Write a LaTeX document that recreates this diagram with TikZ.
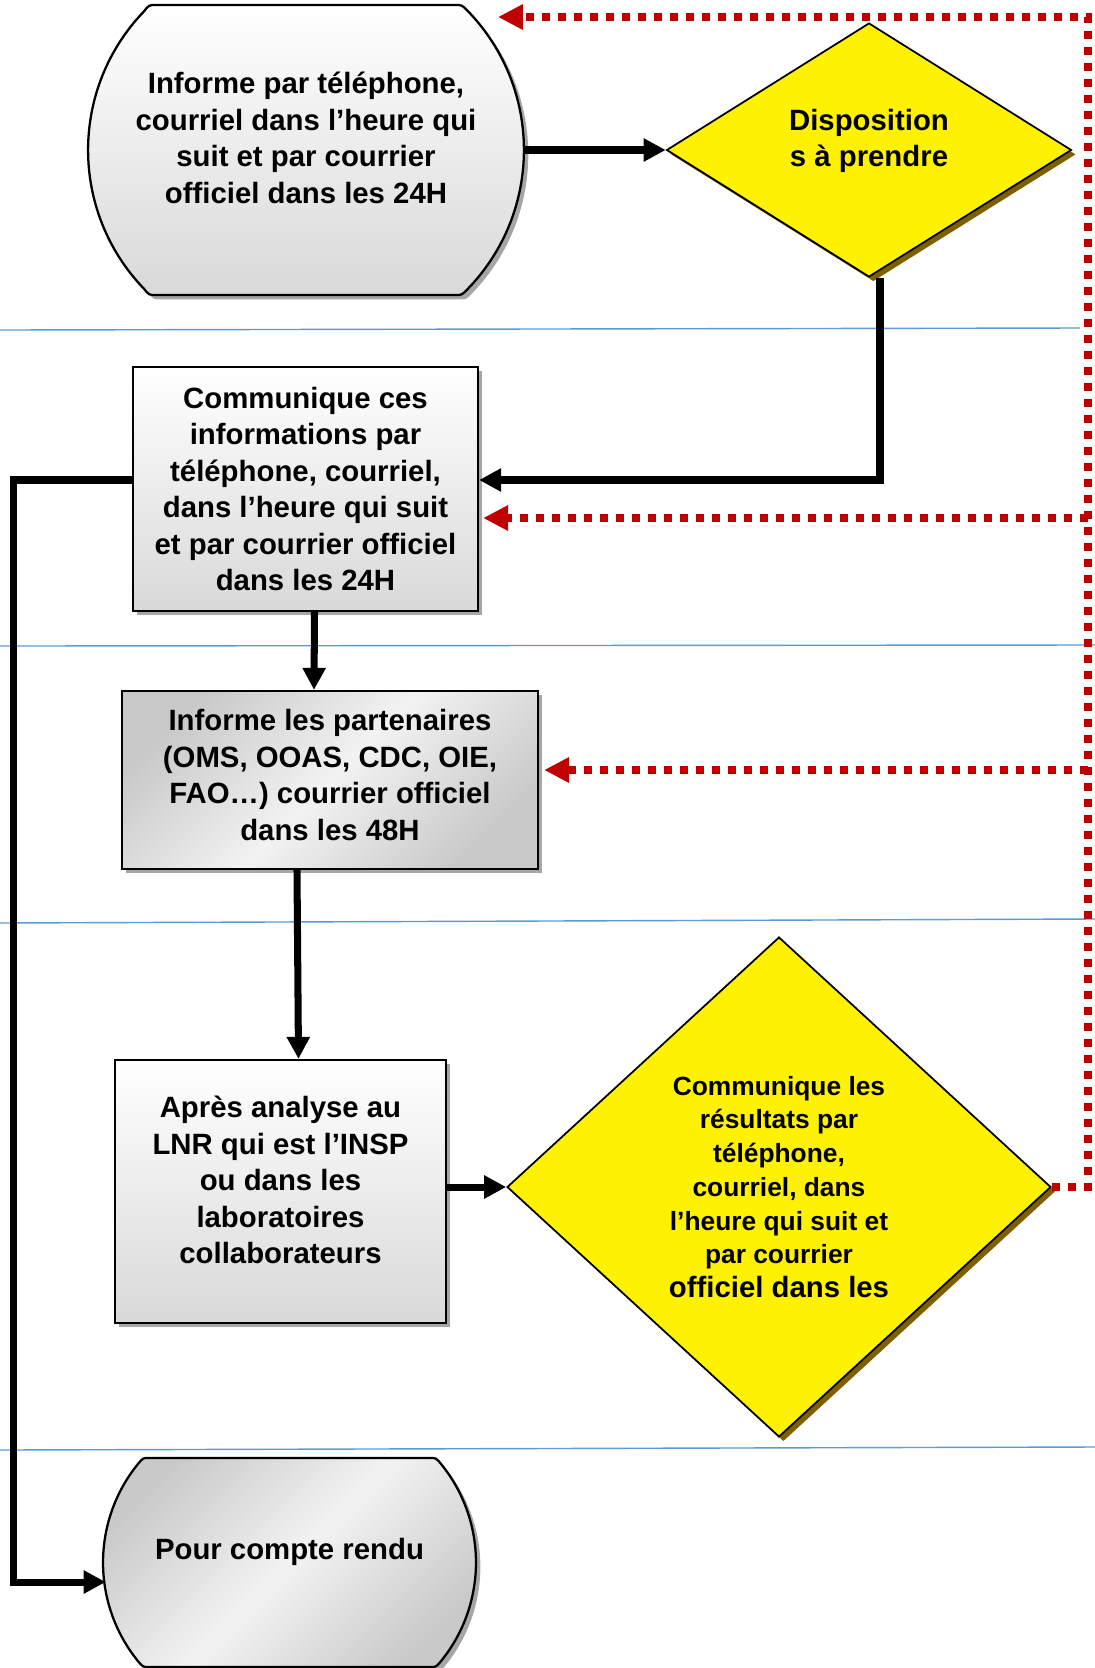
\documentclass[tikz,border=0pt]{standalone}
\usepackage{fontspec}
\setmainfont{Liberation Sans}
\usepackage{xcolor}
\usetikzlibrary{calc,shapes.geometric,arrows.meta,shadows}
\definecolor{alertred}{HTML}{C00000}
\definecolor{laneblue}{HTML}{5B9BD5}
\definecolor{diamondshade}{HTML}{7F6000}
\newcommand{\boxfont}{\bfseries\fontsize{16.7}{20.8}\selectfont}
\newcommand{\smallboxfont}{\bfseries\fontsize{15}{19.2}\selectfont}

\begin{document}
\begin{tikzpicture}[x=0.02cm, y=-0.02cm,
    flow/.style={line width=4pt, -{Triangle[length=0.44cm, width=0.44cm]}},
    alert/.style={line width=4.3pt, alertred, dash pattern=on 0.16cm off 0.16cm,
        -{Triangle[length=0.5cm, width=0.48cm]}},
    lane/.style={laneblue, line width=0.8pt},
    greyshadow/.style={drop shadow={shadow xshift=2.5pt, shadow yshift=-2.5pt, fill=black!35, opacity=1}},
    fade/.style={top color=white, bottom color=black!15},
    diag/.style={left color=black!21, right color=black!21, middle color=black!5, shading angle=45},
    task/.style={rectangle, draw, line width=1.3pt, inner sep=0pt, align=center, font=\boxfont, greyshadow},
    boxtext/.style={align=center, font=\boxfont, inner sep=0pt},
    decision/.style={diamond, draw, line width=1pt, fill=yellow, inner sep=0pt, align=center,
        drop shadow={shadow xshift=2.5pt, shadow yshift=-2.5pt, fill=diamondshade, opacity=1}},
    barrel/.style={draw, line width=1.3pt, greyshadow}]

    \useasboundingbox (0,0) rectangle (1095,1668);

    % Lane separators
    \foreach \xe/\ya/\yb in {1080/330/328, 1095/646/645, 1095/923/919, 1095/1450/1447} {
        \draw[lane] (0,\ya) -- (\xe,\yb);
    }

    % Top step (barrel outline, then its text)
    \draw[barrel, fade] (156,5) -- (455,5) .. controls (462,5) .. (467.8,11)
        arc[start angle=-44, end angle=44, radius=200] .. controls (462,295) .. (455,295)
        -- (156,295) .. controls (149,295) .. (144.2,289)
        arc[start angle=136, end angle=224, radius=200] .. controls (149,5) .. (156,5) -- cycle;
    \node[boxtext, minimum width=8.72cm] (n1) at (306,138)
        {Informe par téléphone,\\courriel dans l’heure qui\\suit et par courrier\\officiel dans les 24H};

    % Decision
    \node[decision, minimum width=8.1cm, minimum height=5.08cm] (d1) at (869,150) {};
    \node[boxtext] (d1text) at (869,141) {Disposition\\s à prendre};

    % Steps
    \node[task, fade, minimum width=6.9cm, minimum height=4.88cm] (n2) at (305.5,489)
        {Communique ces\\informations par\\téléphone, courriel,\\dans l’heure qui suit\\et par courrier officiel\\dans les 24H};
    \node[task, diag, minimum width=8.32cm, minimum height=3.56cm] (n3) at (330,780) {};
    \node[boxtext] (n3text) at (330,775)
        {Informe les partenaires\\(OMS, OOAS, CDC, OIE,\\FAO…) courrier officiel\\dans les 48H};
    \node[task, fade, minimum width=6.62cm, minimum height=5.26cm] (n4) at (280.5,1191.5) {};
    \node[boxtext] (n4text) at (280.5,1180)
        {Après analyse au\\LNR qui est l’INSP\\ou dans les\\laboratoires\\collaborateurs};

    % Results
    \node[decision, font=\smallboxfont, minimum width=10.88cm, minimum height=10cm] (d2) at (779,1187)
        {Communique les\\résultats par\\téléphone,\\courriel, dans\\l’heure qui suit et\\par courrier\\{\boxfont officiel dans les}};

    % Bottom step
    \draw[barrel, diag] (148,1458) -- (431,1458) .. controls (436,1458) .. (441.1,1464)
        arc[start angle=-39, end angle=39, radius=156.5] .. controls (436,1667) .. (431,1667)
        -- (148,1667) .. controls (143,1667) .. (137.9,1661)
        arc[start angle=141, end angle=219, radius=156.5] .. controls (143,1458) .. (148,1458) -- cycle;
    \node[boxtext, minimum width=7.46cm] (n6) at (289.5,1552) {Pour compte rendu};

    % Feedback (red dotted)
    \coordinate (bus) at ($(d2.east)+(36,0)$);
    \coordinate (in1) at (498,17);
    \coordinate (in2) at ($(n2.east)+(4,29)$);
    \coordinate (in3) at ($(n3.east)+(5,-10)$);
    \draw[alert] (d2.east) -- (bus) |- (in1);
    \draw[alert] (bus |- in2) -- (in2);
    \draw[alert] (bus |- in3) -- (in3);

    % Main flow
    \draw[flow] (d1.west -| n1.east) -- (d1.west);
    \draw[flow] ($(d1.south)+(11,0)$) |- ($(n2.east)+(0,-9)$);
    \draw[flow] ($(n2.south)+(9,0)$) -- ($(n3.north)+(-16,0)$);
    \draw[flow] ($(n3.south)+(-33,0)$) -- ($(n4.north)+(18,0)$);
    \draw[flow] (n4.east |- d2.west) -- (d2.west);
    \draw[flow] ($(n2.west)+(0,-9)$) -- ++(-118,0) |- ($(n6.west)+(3,30)$);
\end{tikzpicture}
\end{document}
